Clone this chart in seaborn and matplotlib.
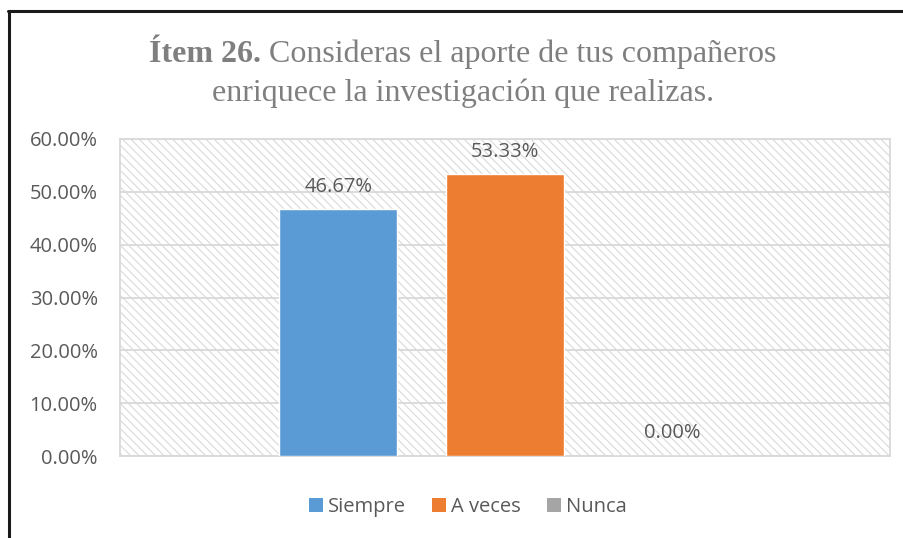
import matplotlib
matplotlib.use("Agg")
import matplotlib.pyplot as plt
import matplotlib.lines as mlines
import matplotlib.patches as mpatches
import pandas as pd
import seaborn as sns

# --------------------------
# Data
# --------------------------
item = ["Ítem 26"]
respuestas = ["Siempre", "A veces", "Nunca"]
porcentajes = [46.67, 53.33, 0.00]
colores = ["#5B9BD5", "#ED7D31", "#A5A5A5"]
yticks = [0, 10, 20, 30, 40, 50, 60]

df = pd.DataFrame({"item": item * 3, "respuesta": respuestas, "pct": porcentajes})

TEXT = "#595959"
TITLE = "#7F7F7F"
GRID = "#D9D9D9"
FS = 14.5

sns.set_theme(style="white")
plt.rcParams["font.family"] = ["Open Sans", "DejaVu Sans"]
plt.rcParams["hatch.color"] = "#D0D0D0"
plt.rcParams["hatch.linewidth"] = 0.8

fig = plt.figure(figsize=(9.04, 5.38), dpi=100)
ax = fig.add_axes([120 / 904, 1 - 456 / 538, 770 / 904, 317 / 538])

# hatched plot area background
ax.add_patch(mpatches.Rectangle((0, 0), 1, 1, transform=ax.transAxes,
                                facecolor="white", edgecolor=GRID,
                                hatch="\\\\\\\\", linewidth=0, zorder=0))

sns.barplot(data=df, x="item", y="pct", hue="respuesta", hue_order=respuestas,
            palette=colores, width=0.65, gap=0.29, ax=ax, zorder=3,
            saturation=1, legend=False)

ax.set_ylim(0, 60)
ax.set_xlim(-0.5, 0.5)
ax.set_yticks(yticks)
ax.set_yticklabels([f"{v:.2f}%" for v in yticks], color=TEXT, fontsize=FS)
ax.tick_params(axis="y", length=0, pad=16)
ax.set_xticks([])
ax.set_xlabel("")
ax.set_ylabel("")
ax.grid(axis="y", color=GRID, linewidth=1.3, zorder=1)
ax.set_axisbelow(True)
for s in ax.spines.values():
    s.set_color(GRID)
    s.set_linewidth(1.3)

# data labels
for cont in ax.containers:
    ax.bar_label(cont, labels=[f"{v:.2f}%" for v in cont.datavalues],
                 padding=9, color=TEXT, fontsize=FS)

# legend
handles = [mpatches.Patch(facecolor=c, edgecolor="none", label=r)
           for c, r in zip(colores, respuestas)]
fig.legend(handles=handles, loc="center", bbox_to_anchor=(468 / 904, 1 - 507 / 538),
           ncol=3, frameon=False, fontsize=FS, labelcolor=TEXT,
           handlelength=0.7, handleheight=0.7, handletextpad=0.25, columnspacing=1.3)

# title: bold lead + regular rest on line 1, regular line 2
serif = ["Liberation Serif", "DejaVu Serif"]
TFS = 23
fig.canvas.draw()
renderer = fig.canvas.get_renderer()
y1 = 1 - 62 / 538
y2 = 1 - 101 / 538
t_bold = fig.text(0, y1, "Ítem 26.", family=serif, fontsize=TFS, weight="bold",
                  color=TITLE, va="baseline")
t_rest = fig.text(0, y1, " Consideras el aporte de tus compañeros", family=serif,
                  fontsize=TFS, color=TITLE, va="baseline")
wb = t_bold.get_window_extent(renderer).width
wr = t_rest.get_window_extent(renderer).width
x0 = (463 - (wb + wr) / 2) / 904
t_bold.set_x(x0)
t_rest.set_x(x0 + wb / 904)
fig.text(463 / 904, y2, "enriquece la investigación que realizas.", family=serif,
         fontsize=TFS, color=TITLE, ha="center", va="baseline")

# outer frame (top and left edges visible)
fig.add_artist(mlines.Line2D([9 / 904, 9 / 904], [0, 1 - 11 / 538], color="#1A1A1A",
                             linewidth=2.2, transform=fig.transFigure))
fig.add_artist(mlines.Line2D([8 / 904, 1], [1 - 11 / 538, 1 - 11 / 538], color="#1A1A1A",
                             linewidth=2.2, transform=fig.transFigure))

fig.savefig("out.png", dpi=100)
